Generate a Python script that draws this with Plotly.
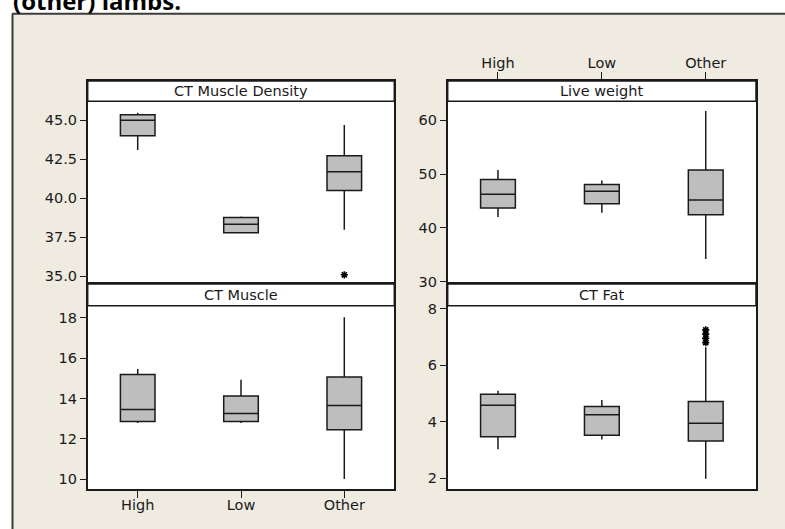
import plotly.graph_objects as go

W, H = 785, 529

categories = ["High", "Low", "Other"]

# CT Muscle Density
density_q1 = [44.01, 37.78, 40.49]
density_med = [45.00, 38.33, 41.70]
density_q3 = [45.36, 38.76, 42.73]
density_lo = [43.09, 37.78, 37.98]
density_hi = [45.49, 38.82, 44.70]
density_out_x = ["Other"]
density_out_y = [35.08]
density_ticks = [35.0, 37.5, 40.0, 42.5, 45.0]

# Live weight
weight_q1 = [43.68, 44.50, 42.44]
weight_med = [46.23, 46.80, 45.16]
weight_q3 = [49.01, 48.05, 50.74]
weight_lo = [42.04, 42.80, 34.22]
weight_hi = [50.74, 48.80, 61.73]
weight_ticks = [30, 40, 50, 60]

# CT Muscle
muscle_q1 = [12.86, 12.86, 12.45]
muscle_med = [13.46, 13.26, 13.65]
muscle_q3 = [15.19, 14.13, 15.07]
muscle_lo = [12.79, 12.79, 10.01]
muscle_hi = [15.46, 14.93, 18.02]
muscle_ticks = [10, 12, 14, 16, 18]

# CT Fat
fat_q1 = [3.47, 3.52, 3.32]
fat_med = [4.58, 4.25, 3.95]
fat_q3 = [4.97, 4.54, 4.72]
fat_lo = [3.03, 3.37, 1.98]
fat_hi = [5.10, 4.77, 6.64]
fat_out_x = ["Other", "Other", "Other", "Other"]
fat_out_y = [7.25, 7.10, 6.95, 6.80]
fat_ticks = [2, 4, 6, 8]

panel_titles = ["CT Muscle Density", "Live weight", "CT Muscle", "CT Fat"]

FONT = "DejaVu Sans"
BOXFILL = "#BEBEBE"
BEIGE = "#EFEBE1"


def px_x(p):
    return p / W


def px_y(p):
    return 1 - p / H


# layout geometry (pixels)
LX = (87.7, 394.3)
RX = (447.7, 756.0)
TOP = (81.0, 101.3, 284.0)     # header top, header bottom, plot bottom
BOT = (284.0, 305.7, 489.0)

fig = go.Figure()

panels = [
    ("x", "y", density_q1, density_med, density_q3, density_lo, density_hi),
    ("x2", "y2", weight_q1, weight_med, weight_q3, weight_lo, weight_hi),
    ("x3", "y3", muscle_q1, muscle_med, muscle_q3, muscle_lo, muscle_hi),
    ("x4", "y4", fat_q1, fat_med, fat_q3, fat_lo, fat_hi),
]
for xa, ya, q1, med, q3, lo, hi in panels:
    fig.add_trace(go.Box(
        x=categories, q1=q1, median=med, q3=q3, lowerfence=lo, upperfence=hi,
        xaxis=xa, yaxis=ya, width=0.335, whiskerwidth=0,
        fillcolor=BOXFILL, line=dict(color="#1a1a1a", width=1.5),
        boxpoints=False, showlegend=False, hoverinfo="skip",
    ))

for xa, ya, ox, oy in [("x", "y", density_out_x, density_out_y),
                       ("x4", "y4", fat_out_x, fat_out_y)]:
    fig.add_trace(go.Scatter(
        x=ox, y=oy, xaxis=xa, yaxis=ya, mode="markers",
        marker=dict(symbol="asterisk-open", size=6, color="black",
                    line=dict(color="black", width=1.6)),
        showlegend=False, hoverinfo="skip",
    ))

tickfont = dict(family=FONT, size=14.5, color="#1a1a1a")


def xaxis(dom, anchor, show, side="bottom", standoff=2):
    return dict(
        domain=[px_x(dom[0]), px_x(dom[1])], anchor=anchor, automargin=False,
        type="category", range=[-0.484, 2.484],
        showline=True, linecolor="#1a1a1a", linewidth=1.5, mirror=True,
        showgrid=False, zeroline=False,
        ticks="outside" if show else "", ticklen=7, tickwidth=1.3,
        tickcolor="#1a1a1a", showticklabels=show, side=side,
        tickfont=tickfont, ticklabelstandoff=standoff,
    )


def yaxis(row, anchor, rng, tv, fmt):
    return dict(
        domain=[px_y(row[2]), px_y(row[0])], anchor=anchor, range=rng,
        automargin=False,
        showline=True, linecolor="#1a1a1a", linewidth=1.5, mirror=True,
        showgrid=False, zeroline=False,
        ticks="outside", ticklen=6, tickwidth=1.3, tickcolor="#1a1a1a",
        tickvals=tv, ticktext=[fmt.format(v) for v in tv],
        tickfont=tickfont,
    )


fig.update_layout(
    width=W, height=H,
    margin=dict(l=0, r=0, t=0, b=0, autoexpand=False),
    paper_bgcolor=BEIGE, plot_bgcolor="white",
    xaxis=xaxis(LX, "y", False),
    yaxis=yaxis(TOP, "x", [34.49, 47.52], density_ticks, "{:.1f}"),
    xaxis2=xaxis(RX, "y2", True, side="top", standoff=-2),
    yaxis2=yaxis(TOP, "x2", [29.57, 67.30], weight_ticks, "{:d}"),
    xaxis3=xaxis(LX, "y3", True, standoff=-5),
    yaxis3=yaxis(BOT, "x3", [9.52, 19.67], muscle_ticks, "{:d}"),
    xaxis4=xaxis(RX, "y4", False),
    yaxis4=yaxis(BOT, "x4", [1.62, 8.874], fat_ticks, "{:d}"),
)

shapes = []
# white strips outside the beige frame
shapes.append(dict(type="rect", xref="paper", yref="paper", x0=0, x1=px_x(12),
                   y0=0, y1=1, fillcolor="white", line=dict(width=0), layer="below"))
shapes.append(dict(type="rect", xref="paper", yref="paper", x0=0, x1=1,
                   y0=px_y(13.5), y1=1, fillcolor="white", line=dict(width=0), layer="below"))
# frame border
shapes.append(dict(type="line", xref="paper", yref="paper", x0=px_x(12), x1=1,
                   y0=px_y(13.8), y1=px_y(13.8), line=dict(color="#3c3c3c", width=2)))
shapes.append(dict(type="line", xref="paper", yref="paper", x0=px_x(12.5), x1=px_x(12.5),
                   y0=0, y1=px_y(13.8), line=dict(color="#3c3c3c", width=2)))

annotations = []
for (cx, row), title in zip([(LX, TOP), (RX, TOP), (LX, BOT), (RX, BOT)], panel_titles):
    shapes.append(dict(type="rect", xref="paper", yref="paper",
                       x0=px_x(cx[0]), x1=px_x(cx[1]),
                       y0=px_y(row[1]), y1=px_y(row[0]),
                       fillcolor="white", line=dict(color="#1a1a1a", width=1.5)))
    annotations.append(dict(xref="paper", yref="paper",
                            x=px_x((cx[0] + cx[1]) / 2), y=px_y((row[0] + row[1]) / 2),
                            text=title, showarrow=False, xanchor="center", yanchor="middle",
                            font=dict(family=FONT, size=14.5, color="#1a1a1a")))

annotations.append(dict(xref="paper", yref="paper", x=px_x(11), y=px_y(19),
                        text="<b>(other) lambs.</b>", showarrow=False,
                        xanchor="left", yanchor="bottom",
                        font=dict(family="Open Sans", size=24, color="black")))

fig.update_layout(shapes=shapes, annotations=annotations)

post = ("document.body.style.margin='0';document.body.style.padding='0';"
        "document.body.style.overflow='hidden';")

fig.write_html("out.html", config={"displayModeBar": False}, post_script=post)
